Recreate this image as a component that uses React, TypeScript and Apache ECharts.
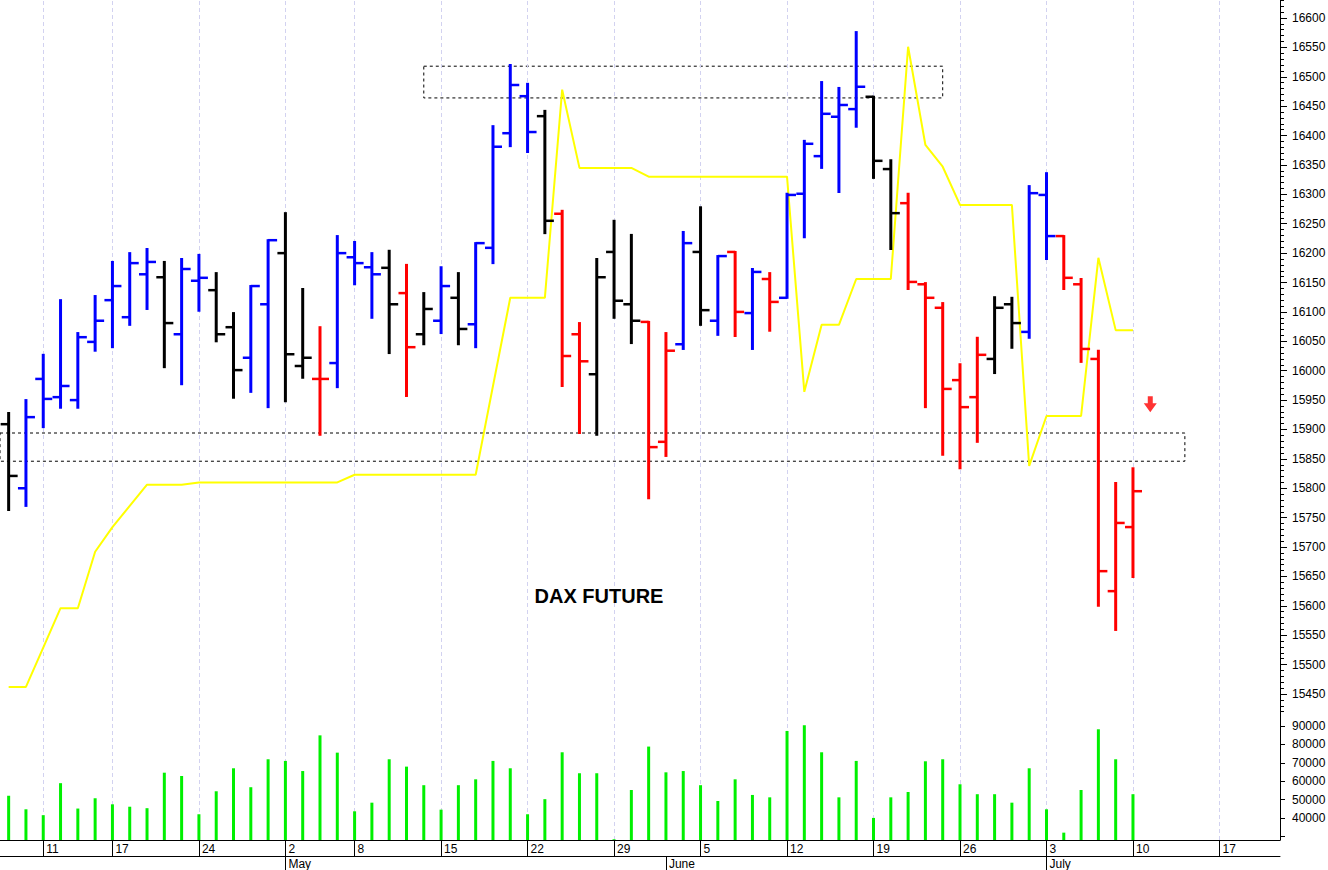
import React, { useEffect, useRef } from 'react';
import * as echarts from 'echarts';

// Trading days (category index = position in this list)
const dates: string[] = [
  '2023-04-05', '2023-04-06', '2023-04-11', '2023-04-12', '2023-04-13', '2023-04-14',
  '2023-04-17', '2023-04-18', '2023-04-19', '2023-04-20', '2023-04-21',
  '2023-04-24', '2023-04-25', '2023-04-26', '2023-04-27', '2023-04-28',
  '2023-05-02', '2023-05-03', '2023-05-04', '2023-05-05',
  '2023-05-08', '2023-05-09', '2023-05-10', '2023-05-11', '2023-05-12',
  '2023-05-15', '2023-05-16', '2023-05-17', '2023-05-18', '2023-05-19',
  '2023-05-22', '2023-05-23', '2023-05-24', '2023-05-25', '2023-05-26',
  '2023-05-29', '2023-05-30', '2023-05-31', '2023-06-01', '2023-06-02',
  '2023-06-05', '2023-06-06', '2023-06-07', '2023-06-08', '2023-06-09',
  '2023-06-12', '2023-06-13', '2023-06-14', '2023-06-15', '2023-06-16',
  '2023-06-19', '2023-06-20', '2023-06-21', '2023-06-22', '2023-06-23',
  '2023-06-26', '2023-06-27', '2023-06-28', '2023-06-29', '2023-06-30',
  '2023-07-03', '2023-07-04', '2023-07-05', '2023-07-06', '2023-07-07',
  '2023-07-10', '2023-07-11', '2023-07-12', '2023-07-13', '2023-07-14',
  '2023-07-17', '2023-07-18', '2023-07-19', '2023-07-20',
];

const opens: number[] = [
  15909, 15800, 15986, 15955, 15950, 16049, 16120, 16091, 16164, 16159,
  16062, 16153, 16137, 16074, 16022, 16113, 16200, 16008, 15986, 16013,
  16193, 16176, 16175, 16132, 16062, 16085, 16124, 16079, 16209, 16404,
  16467, 16433, 16267, 16062, 15994, 16202, 16113, 16083, 15879, 16045,
  16202, 16085, 16202, 16098, 16156, 16124, 16301, 16365, 16432, 16445,
  16466, 16343, 16285, 16147, 16107, 15984, 15955, 16020, 16113, 16066,
  16299, 16229, 16147, 16020, 15625, 15734,
];
const highs: number[] = [
  15928, 15950, 16027, 16120, 16064, 16127, 16185, 16200, 16207, 16185,
  16190, 16197, 16166, 16098, 16144, 16222, 16268, 16139, 16074, 16229,
  16219, 16200, 16204, 16180, 16132, 16176, 16166, 16217, 16416, 16520,
  16488, 16442, 16272, 16081, 16190, 16255, 16231, 16083, 16064, 16236,
  16278, 16195, 16202, 16173, 16166, 16301, 16391, 16491, 16481, 16576,
  16466, 16358, 16301, 16149, 16115, 16011, 16056, 16125, 16124, 16314,
  16336, 16229, 16156, 16034, 15809, 15834,
];
const lows: number[] = [
  15763, 15770, 15904, 15937, 15937, 16034, 16040, 16078, 16105, 16006,
  15977, 16102, 16050, 15954, 15964, 15938, 15948, 15988, 15891, 15972,
  16147, 16090, 16030, 15957, 16045, 16064, 16045, 16040, 16183, 16382,
  16372, 16234, 15974, 15894, 15891, 16090, 16047, 15783, 15855, 16037,
  16078, 16061, 16059, 16037, 16068, 16124, 16227, 16345, 16304, 16415,
  16328, 16207, 16139, 15938, 15857, 15834, 15879, 15996, 16039, 16056,
  16190, 16139, 16015, 15600, 15559, 15649,
];
const closes: number[] = [
  15821, 15921, 15952, 15974, 16057, 16085, 16144, 16183, 16185, 16081,
  16173, 16158, 16062, 16001, 16144, 16222, 16028, 16022, 15986, 16200,
  16183, 16164, 16113, 16040, 16105, 16144, 16071, 16217, 16381, 16486,
  16406, 16255, 16025, 16016, 16159, 16119, 16085, 15870, 16034, 16217,
  16103, 16195, 16100, 16168, 16117, 16299, 16386, 16437, 16452, 16483,
  16357, 16268, 16151, 16124, 15969, 15938, 16027, 16107, 16081, 16302,
  16229, 16158, 16037, 15659, 15741, 15795,
];
// Trend state of each bar: k = neutral, b = up, r = down
const trendState: string[] = [
  'k', 'b', 'b', 'b', 'b', 'b', 'b', 'b', 'b', 'k',
  'b', 'b', 'k', 'k', 'b', 'b', 'k', 'k', 'r', 'b',
  'b', 'b', 'k', 'r', 'k', 'b', 'k', 'b', 'b', 'b',
  'b', 'k', 'r', 'r', 'k', 'k', 'k', 'r', 'r', 'b',
  'k', 'b', 'r', 'b', 'r', 'b', 'b', 'b', 'b', 'b',
  'k', 'k', 'r', 'r', 'r', 'r', 'r', 'k', 'k', 'b',
  'b', 'r', 'r', 'r', 'r', 'r',
];
const volumes: number[] = [
  52100, 44700, 41500, 58900, 45100, 50700, 47400, 46100, 45300, 64600,
  62800, 42000, 54500, 67000, 56700, 71900, 71000, 65500, 84900, 75500,
  43600, 48300, 71900, 67900, 57800, 44500, 57800, 61000, 71000, 67000,
  42000, 50200, 75700, 64300, 64300, 28400, 55200, 78800, 64800, 65500,
  57800, 49200, 61000, 52500, 51200, 87300, 90400, 75700, 51200, 71000,
  40000, 51200, 54100, 70800, 71900, 58300, 52900, 52900, 48300, 67000,
  44700, 32000, 55200, 88200, 71900, 52900,
];
const signalLine: number[] = [
  15462, 15462, 15529, 15596, 15596, 15692, 15734, 15770, 15806, 15806,
  15806, 15810, 15810, 15810, 15810, 15810, 15810, 15810, 15810, 15810,
  15823, 15823, 15823, 15823, 15823, 15823, 15823, 15823, 15974, 16124,
  16124, 16124, 16478, 16345, 16345, 16345, 16345, 16330, 16330, 16330,
  16330, 16330, 16330, 16330, 16330, 16330, 15964, 16078, 16078, 16156,
  16156, 16156, 16551, 16384, 16347, 16282, 16282, 16282, 16282, 15838,
  15923, 15923, 15923, 16192, 16069, 16069,
];

const priceTickLabels: number[] = [
  15450, 15500, 15550, 15600, 15650, 15700, 15750, 15800, 15850, 15900, 15950, 16000,
  16050, 16100, 16150, 16200, 16250, 16300, 16350, 16400, 16450, 16500, 16550, 16600,
];
const volumeTickLabels: number[] = [40000, 50000, 60000, 70000, 80000, 90000];
const volumeTicks: number[] = [30000, 40000, 50000, 60000, 70000, 80000, 90000];

// Resistance / support zones: [fromIndex, toIndex, low, high]
const upperZone = [24, 54, 16464, 16518];
const lowerZone = [-0.5, 68, 15846, 15894];
const arrowMark = [66, 15943];
const titleText = 'DAX FUTURE';

const monthNames = ['January', 'February', 'March', 'April', 'May', 'June', 'July',
  'August', 'September', 'October', 'November', 'December'];

const COLORS: Record<string, string> = { k: '#000000', b: '#0000ff', r: '#ff0000' };
const FONT = '"Liberation Sans", Arial, sans-serif';

const parsed = dates.map((d) => new Date(d + 'T00:00:00Z'));
const weekStarts: number[] = [];
const monthStarts: number[] = [];
for (let i = 1; i < parsed.length; i++) {
  if (parsed[i].getUTCDay() < parsed[i - 1].getUTCDay()) weekStarts.push(i);
  if (parsed[i].getUTCMonth() !== parsed[i - 1].getUTCMonth()) monthStarts.push(i);
}

const PMIN = 15419.4;
const PMAX = 16630.6;
const minorPriceTicks: number[] = [];
for (let v = 15420; v <= 16630; v += 10) if (v % 50 !== 0) minorPriceTicks.push(v);

const plain = (v: number) => String(Math.round(v));

export default function App() {
  const ref = useRef<HTMLDivElement>(null);
  useEffect(() => {
    document.body.style.margin = '0';
    const chart = echarts.init(ref.current!, null, { renderer: 'svg' });
    const xMin = -0.5;
    const xMax = dates.length - 0.5;
    const ohlc = opens.map((o, i) => [i, o, highs[i], lows[i], closes[i]]);
    const gridLineMark = {
      silent: true,
      symbol: ['none', 'none'],
      label: { show: false },
      z: 1,
      lineStyle: { color: '#d2d2f0', type: [4, 3], width: 1 },
      data: weekStarts.map((i) => ({ xAxis: i })),
    };
    const option: any = {
      animation: false,
      backgroundColor: '#ffffff',
      grid: [
        { left: 0, right: 48, top: 0, height: 712, outerBoundsMode: 'none' },
        { left: 0, right: 48, top: 712, height: 128, outerBoundsMode: 'none' },
      ],
      xAxis: [
        { gridIndex: 0, type: 'value', min: xMin, max: xMax, show: false, axisLine: { onZero: false } },
        {
          gridIndex: 1, type: 'value', min: xMin, max: xMax, position: 'bottom',
          axisLine: { show: true, onZero: false, lineStyle: { color: '#000', width: 1 } },
          axisTick: { show: true, customValues: weekStarts, length: 16, lineStyle: { color: '#000' } },
          axisLabel: {
            customValues: weekStarts, margin: 3, align: 'left', padding: [0, 0, 0, 3],
            color: '#000', fontSize: 12, fontFamily: FONT,
            formatter: (v: number) => String(parsed[Math.round(v)].getUTCDate()),
          },
          splitLine: { show: false },
        },
        {
          gridIndex: 1, type: 'value', min: xMin, max: xMax, position: 'bottom', offset: 16,
          axisLine: { show: true, onZero: false, lineStyle: { color: '#000', width: 1 } },
          axisTick: { show: true, customValues: monthStarts, length: 14, lineStyle: { color: '#000' } },
          axisLabel: {
            customValues: monthStarts, margin: 2, align: 'left', padding: [0, 0, 0, 3],
            color: '#000', fontSize: 12, fontFamily: FONT,
            formatter: (v: number) => monthNames[parsed[Math.round(v)].getUTCMonth()],
          },
          splitLine: { show: false },
        },
      ],
      yAxis: [
        {
          gridIndex: 0, type: 'value', position: 'right', min: PMIN, max: PMAX,
          axisLine: { show: true, onZero: false, lineStyle: { color: '#000', width: 1 } },
          axisTick: { show: true, customValues: priceTickLabels, length: 7, lineStyle: { color: '#000' } },
          axisLabel: { customValues: priceTickLabels, margin: 12, color: '#000', fontSize: 12, fontFamily: FONT, formatter: plain },
          splitLine: { show: false },
        },
        {
          gridIndex: 0, type: 'value', position: 'right', min: PMIN, max: PMAX,
          axisLine: { show: false, onZero: false },
          axisTick: { show: true, customValues: minorPriceTicks, length: 4, lineStyle: { color: '#000' } },
          axisLabel: { show: false },
          splitLine: { show: false },
        },
        {
          gridIndex: 1, type: 'value', position: 'right', min: 28000, max: 97600,
          axisLine: { show: true, onZero: false, lineStyle: { color: '#000', width: 1 } },
          axisTick: { show: true, customValues: volumeTicks, length: 5, lineStyle: { color: '#000' } },
          axisLabel: { customValues: volumeTickLabels, margin: 12, color: '#000', fontSize: 12, fontFamily: FONT, formatter: plain },
          splitLine: { show: false },
        },
      ],
      series: [
        {
          type: 'line', name: 'signal', xAxisIndex: 0, yAxisIndex: 0, z: 2,
          data: signalLine.map((v, i) => [i, v]),
          symbol: 'none', lineStyle: { color: '#ffff00', width: 2 }, silent: true,
          markLine: gridLineMark,
          markArea: {
            silent: true,
            z: 1,
            itemStyle: { color: 'rgba(0,0,0,0)', borderColor: '#000', borderWidth: 1, borderType: [3, 3] },
            data: [
              [{ xAxis: upperZone[0], yAxis: upperZone[3] }, { xAxis: upperZone[1], yAxis: upperZone[2] }],
              [{ xAxis: lowerZone[0], yAxis: lowerZone[3] }, { xAxis: lowerZone[1], yAxis: lowerZone[2] }],
            ],
          },
        },
        {
          type: 'custom', name: 'ohlc', xAxisIndex: 0, yAxisIndex: 0, z: 3,
          data: ohlc,
          encode: { x: 0, y: [1, 2, 3, 4] },
          renderItem: (params: any, api: any) => {
            const i = api.value(0);
            const o = api.coord([i, api.value(1)]);
            const h = api.coord([i, api.value(2)]);
            const l = api.coord([i, api.value(3)]);
            const c = api.coord([i, api.value(4)]);
            const color = COLORS[trendState[params.dataIndex]] || '#000';
            const x = h[0];
            return {
              type: 'group',
              children: [
                { type: 'line', shape: { x1: x, y1: h[1] - 1, x2: x, y2: l[1] + 1 }, style: { stroke: color, lineWidth: 3 } },
                { type: 'line', shape: { x1: x - 8, y1: o[1], x2: x, y2: o[1] }, style: { stroke: color, lineWidth: 2.5 } },
                { type: 'line', shape: { x1: x, y1: c[1], x2: x + 9, y2: c[1] }, style: { stroke: color, lineWidth: 2.5 } },
              ],
            };
          },
        },
        {
          type: 'scatter', name: 'arrow', xAxisIndex: 0, yAxisIndex: 0, z: 4,
          data: [arrowMark],
          symbol: 'path://M4,0 L9,0 L9,7 L13,7 L6.5,16 L0,7 L4,7 Z',
          symbolSize: [13, 16],
          itemStyle: { color: '#ff0000' },
          silent: true,
        },
        {
          type: 'bar', name: 'volume', xAxisIndex: 1, yAxisIndex: 2, z: 2,
          data: volumes.map((v, i) => [i, v]),
          barWidth: 3, clip: true,
          itemStyle: { color: '#00f000' },
          silent: true,
          markLine: gridLineMark,
        },
      ],
      graphic: [
        {
          type: 'text', x: 599, y: 596, z: 10,
          style: {
            text: titleText, fill: '#000', fontSize: 20, fontWeight: 'bold', fontFamily: FONT,
            align: 'center', verticalAlign: 'middle',
          },
        },
      ],
    };
    chart.setOption(option);
    return () => chart.dispose();
  }, []);
  return <div ref={ref} style={{ width: 1328, height: 870 }} />;
}
